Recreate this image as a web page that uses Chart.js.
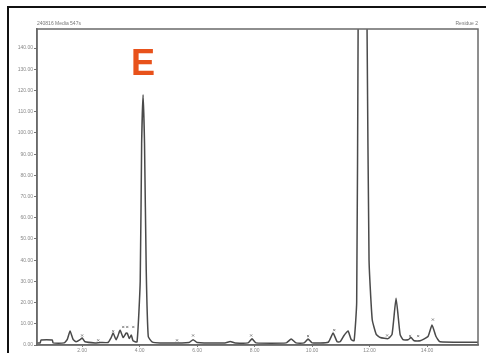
<!DOCTYPE html>
<html>
<head>
<meta charset="utf-8">
<script src="https://cdn.jsdelivr.net/npm/chart.js@4"></script>
<style>
  html, body { margin: 0; padding: 0; background: #fff; }
  body { width: 486px; height: 353px; overflow: hidden; position: relative; }
  #frame { position: absolute; left: 7px; top: 6px; width: 520px; height: 420px; border: 2px solid #111; box-sizing: border-box; }
  canvas { position: absolute; left: 0; top: 0; }
</style>
</head>
<body>
<div id="frame"></div>
<canvas id="c" width="486" height="353"></canvas>
<script>
// Retention time (min) and detector response of the chromatogram trace
const traceTimes = [0.43, 0.54, 0.57, 0.96, 0.99, 1.37, 1.48, 1.58, 1.69, 1.79, 1.93, 2.00, 2.10, 2.45, 2.63, 2.90, 3.01, 3.08, 3.18, 3.25, 3.32, 3.43, 3.53, 3.57, 3.64, 3.71, 3.77, 3.91, 4.02, 4.07, 4.12, 4.17, 4.23, 4.30, 4.43, 4.71, 5.72, 5.86, 6.00, 6.97, 7.15, 7.32, 7.77, 7.91, 8.05, 9.10, 9.27, 9.44, 9.72, 9.86, 10.00, 10.56, 10.73, 10.87, 10.97, 11.11, 11.25, 11.36, 11.46, 11.55, 11.60, 11.67, 11.74, 11.91, 11.98, 12.09, 12.23, 12.37, 12.64, 12.78, 12.92, 13.06, 13.16, 13.34, 13.44, 13.55, 13.76, 14.03, 14.17, 14.31, 14.45, 15.77];
const traceValues = [1.0, 1.0, 2.4, 2.4, 1.0, 1.0, 2.5, 6.6, 2.5, 1.5, 2.5, 3.3, 1.5, 1.0, 1.2, 1.2, 3.5, 5.6, 2.5, 4.5, 7.0, 3.5, 5.6, 5.6, 3.0, 4.7, 2.0, 1.5, 30, 95, 118, 95, 35, 4.0, 1.5, 1.0, 1.2, 2.5, 1.2, 1.0, 1.6, 1.0, 1.0, 2.9, 1.0, 1.0, 2.8, 1.0, 1.0, 2.8, 1.0, 1.3, 5.6, 1.5, 1.5, 4.5, 6.6, 2.5, 2.0, 20, 150, 400, 400, 150, 40, 12, 5.0, 3.5, 3.0, 5.0, 22, 5.0, 2.5, 2.5, 3.5, 2.0, 2.0, 4.0, 9.4, 4.0, 1.5, 1.3];

// Integration marks placed above detected peaks
const markTimes = [2.00, 2.56, 3.08, 3.43, 3.57, 3.78, 5.30, 5.86, 7.88, 9.86, 10.77, 12.61, 13.41, 13.69, 14.20];
const markValues = [4.5, 2.2, 6.5, 8.5, 8.5, 8.5, 2.2, 4.5, 4.5, 4.2, 7.0, 4.5, 4.2, 4.2, 12.0];

const yTicks = [0, 10, 20, 30, 40, 50, 60, 70, 80, 90, 100, 110, 120, 130, 140];
const xTicks = [2, 4, 6, 8, 10, 12, 14];

const peakLabel = 'E';
const peakLabelTime = 4.12;
const headerLeft = '240816 Media 547s';
const headerRight = 'Residue 2';

const tracePoints = traceTimes.map((t, i) => ({ x: t, y: traceValues[i] }));
const markPoints = markTimes.map((t, i) => ({ x: t, y: markValues[i] }));

const decorations = {
  id: 'decorations',
  afterDatasetsDraw(chart) {
    const { ctx, chartArea: a, scales } = chart;
    ctx.save();
    // plot frame
    ctx.strokeStyle = '#6a6a6a';
    ctx.lineWidth = 1.5;
    ctx.strokeRect(a.left, a.top, a.right - a.left, a.bottom - a.top);
    // header texts
    ctx.fillStyle = '#777';
    ctx.font = '5px "Liberation Sans", Arial, sans-serif';
    ctx.textBaseline = 'bottom';
    ctx.textAlign = 'left';
    ctx.fillText(headerLeft, a.left, a.top - 3);
    ctx.textAlign = 'right';
    ctx.fillText(headerRight, a.right, a.top - 3);
    // peak label
    ctx.fillStyle = '#E8521B';
    ctx.font = 'bold 36px "Liberation Sans", Arial, sans-serif';
    ctx.textAlign = 'center';
    ctx.textBaseline = 'alphabetic';
    ctx.fillText(peakLabel, scales.x.getPixelForValue(peakLabelTime), 75);
    ctx.restore();
  }
};

new Chart(document.getElementById('c'), {
  type: 'scatter',
  data: {
    datasets: [
      {
        data: tracePoints,
        showLine: true,
        borderColor: '#4a4a4a',
        borderWidth: 1.5,
        pointRadius: 0,
        tension: 0.15,
        clip: 0
      },
      {
        data: markPoints,
        showLine: false,
        pointStyle: 'crossRot',
        pointRadius: 1.5,
        borderColor: '#8a8a8a',
        borderWidth: 1
      }
    ]
  },
  options: {
    responsive: false,
    animation: false,
    events: [],
    layout: { padding: { top: 29, right: 8, left: 0, bottom: 0 } },
    plugins: { legend: { display: false }, tooltip: { enabled: false } },
    scales: {
      x: {
        type: 'linear',
        min: 0.43,
        max: 15.77,
        afterBuildTicks(s) { s.ticks = xTicks.map(v => ({ value: v })); },
        afterFit(s) { s.height = 8; },
        grid: { drawOnChartArea: false, tickLength: 2, color: '#777' },
        border: { color: '#6a6a6a', width: 1.5 },
        ticks: {
          color: '#888',
          padding: 1,
          font: { size: 5, family: '"Liberation Sans", Arial, sans-serif' },
          callback: v => v.toFixed(2)
        }
      },
      y: {
        min: 0,
        max: 149,
        afterBuildTicks(s) { s.ticks = yTicks.map(v => ({ value: v })); },
        afterFit(s) { s.width = 37; },
        grid: { drawOnChartArea: false, tickLength: 3, color: '#777' },
        border: { color: '#6a6a6a', width: 1.5 },
        ticks: {
          color: '#888',
          padding: 1,
          font: { size: 5, family: '"Liberation Sans", Arial, sans-serif' },
          callback: v => v.toFixed(2)
        }
      }
    }
  },
  plugins: [decorations]
});
</script>
</body>
</html>
